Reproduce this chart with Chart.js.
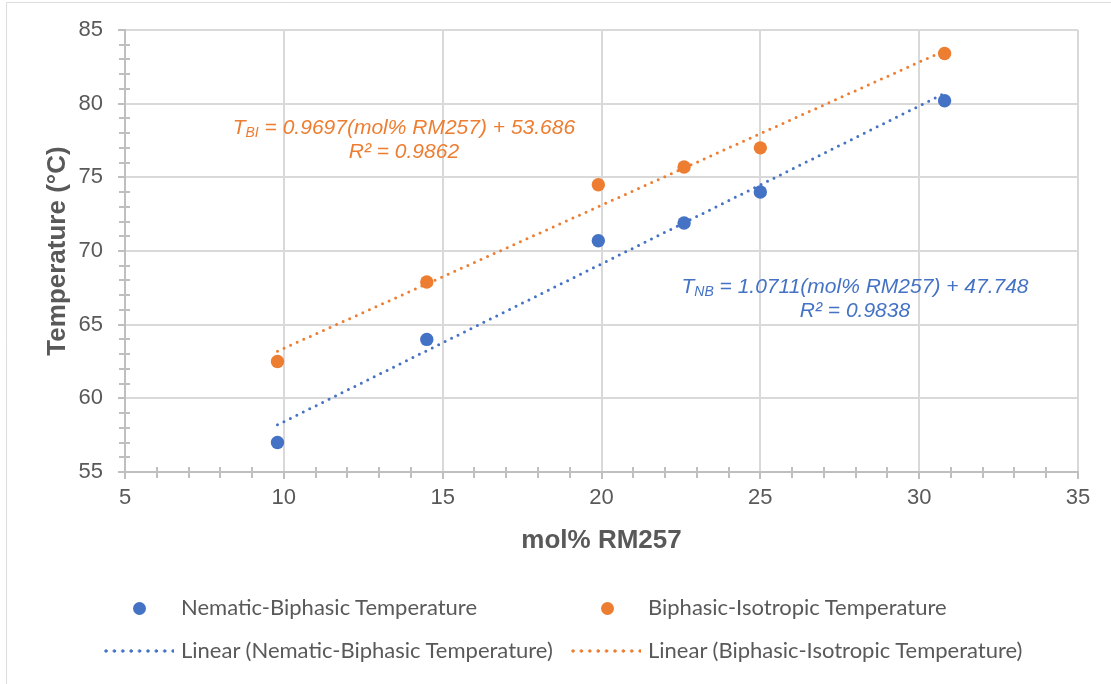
<!DOCTYPE html>
<html>
<head>
<meta charset="utf-8">
<script src="https://cdn.jsdelivr.net/npm/chart.js@4.4.1/dist/chart.umd.min.js"></script>
<style>
html,body{margin:0;padding:0;background:#ffffff;}
#wrap{position:relative;width:1111px;height:684px;overflow:hidden;background:#fff;}
#chart{position:absolute;left:0;top:0;}
.legtxt{position:absolute;font-family:Lato,"Open Sans",sans-serif;font-size:22px;color:#595959;line-height:26px;white-space:nowrap;}
.legdot{position:absolute;width:13px;height:13px;border-radius:50%;}
.legline{position:absolute;height:4px;background-repeat:repeat-x;background-size:8.4px 4px;}
</style>
</head>
<body>
<div id="wrap">
<canvas id="chart" width="1111" height="684"></canvas>
<div id="legend"></div>
</div>
<script>
// ---- data ----
const xValues = [9.8, 14.5, 19.9, 22.6, 25.0, 30.8];
const nematicBiphasic = [57.0, 64.0, 70.7, 71.9, 74.0, 80.2];
const biphasicIsotropic = [62.5, 67.9, 74.5, 75.7, 77.0, 83.4];
const trendX = [9.8, 30.8];
const trendNB = [58.2, 80.7];
const trendBI = [63.2, 83.6];
const xTickValues = [5, 10, 15, 20, 25, 30, 35];
const yTickValues = [55, 60, 65, 70, 75, 80, 85];
const seriesNames = ['Nematic-Biphasic Temperature', 'Biphasic-Isotropic Temperature',
  'Linear (Nematic-Biphasic Temperature)', 'Linear (Biphasic-Isotropic Temperature)'];
const eqNB = { sym: 'T', sub: 'NB', rest: ' = 1.0711(mol% RM257) + 47.748', r2: 'R² = 0.9838' };
const eqBI = { sym: 'T', sub: 'BI', rest: ' = 0.9697(mol% RM257) + 53.686', r2: 'R² = 0.9862' };
const xTitle = 'mol% RM257';
const yTitle = 'Temperature (°C)';

const BLUE = '#4472C4', ORANGE = '#ED7D31', TXT = '#595959', GRID = '#d9d9d9', AXIS = '#bfbfbf';
const FONT = '"Liberation Sans", Arial, sans-serif';

const toPts = (xs, ys) => xs.map((x, i) => ({ x: x, y: ys[i] }));

// ---- plugin: frame, minor ticks, trendline equations ----
const extras = {
  id: 'extras',
  beforeDraw(chart) {
    const ctx = chart.ctx;
    ctx.save();
    ctx.strokeStyle = '#dcdcdc';
    ctx.lineWidth = 1;
    ctx.beginPath();
    ctx.moveTo(6.5, 684);
    ctx.lineTo(6.5, 2.5);
    ctx.lineTo(1111, 2.5);
    ctx.stroke();
    ctx.restore();
  },
  beforeDatasetsDraw(chart) {
    const { ctx, scales: { x, y } } = chart;
    ctx.save();
    ctx.strokeStyle = AXIS;
    ctx.lineWidth = 2;
    for (let v = x.min + 1; v < x.max; v++) {
      if (v % 5 === 0) continue;
      const px = Math.round(x.getPixelForValue(v));
      ctx.beginPath();
      ctx.moveTo(px, y.bottom - 5);
      ctx.lineTo(px, y.bottom + 6);
      ctx.stroke();
    }
    for (let v = y.min + 1; v < y.max; v++) {
      if (v % 5 === 0) continue;
      const py = Math.round(y.getPixelForValue(v));
      ctx.beginPath();
      ctx.moveTo(x.left - 6, py);
      ctx.lineTo(x.left + 5, py);
      ctx.stroke();
    }
    ctx.restore();
  },
  afterDatasetsDraw(chart) {
    const { ctx, scales: { x, y } } = chart;
    const drawEq = (eq, cx, cy, color) => {
      const px = x.getPixelForValue(cx), py = y.getPixelForValue(cy);
      ctx.save();
      ctx.fillStyle = color;
      ctx.textBaseline = 'middle';
      const big = 'italic 21px ' + FONT, small = 'italic 14px ' + FONT;
      ctx.font = big; const w1 = ctx.measureText(eq.sym).width;
      ctx.font = small; const w2 = ctx.measureText(eq.sub).width;
      ctx.font = big; const w3 = ctx.measureText(eq.rest).width;
      let sx = px - (w1 + w2 + w3) / 2;
      ctx.textAlign = 'left';
      ctx.font = big; ctx.fillText(eq.sym, sx, py);
      ctx.font = small; ctx.fillText(eq.sub, sx + w1, py + 5);
      ctx.font = big; ctx.fillText(eq.rest, sx + w1 + w2, py);
      ctx.textAlign = 'center';
      ctx.fillText(eq.r2, px, py + 24);
      ctx.restore();
    };
    drawEq(eqBI, 13.78, 78.35, ORANGE);
    drawEq(eqNB, 27.98, 67.55, BLUE);
  }
};

const chart = new Chart(document.getElementById('chart'), {
  type: 'scatter',
  data: {
    datasets: [
      { label: seriesNames[2], type: 'line', data: toPts(trendX, trendNB), borderColor: BLUE,
        borderWidth: 3, borderDash: [0, 7.2], borderCapStyle: 'round', pointRadius: 0, fill: false, order: 2 },
      { label: seriesNames[3], type: 'line', data: toPts(trendX, trendBI), borderColor: ORANGE,
        borderWidth: 3, borderDash: [0, 7.2], borderCapStyle: 'round', pointRadius: 0, fill: false, order: 2 },
      { label: seriesNames[0], data: toPts(xValues, nematicBiphasic), backgroundColor: BLUE,
        borderWidth: 0, pointRadius: 6.7, order: 1 },
      { label: seriesNames[1], data: toPts(xValues, biphasicIsotropic), backgroundColor: ORANGE,
        borderWidth: 0, pointRadius: 6.7, order: 1 }
    ]
  },
  options: {
    responsive: false,
    devicePixelRatio: 1,
    animation: false,
    events: [],
    layout: { padding: { left: 0, top: 30, right: 33, bottom: 122 } },
    plugins: { legend: { display: false }, tooltip: { enabled: false } },
    scales: {
      x: {
        type: 'linear', min: xTickValues[0], max: xTickValues[xTickValues.length - 1],
        afterBuildTicks: (s) => { s.ticks = xTickValues.map(v => ({ value: v })); },
        afterFit: (s) => { s.height = 90; },
        grid: { color: GRID, lineWidth: 2, tickColor: AXIS, tickLength: 7 },
        border: { color: AXIS, width: 2 },
        ticks: { color: TXT, font: { family: FONT, size: 22 }, padding: 6, maxRotation: 0 },
        title: { display: true, text: xTitle, color: TXT, font: { family: FONT, size: 26, weight: 'bold' },
          padding: { top: 0, bottom: 6 } }
      },
      y: {
        type: 'linear', min: yTickValues[0], max: yTickValues[yTickValues.length - 1],
        afterBuildTicks: (s) => { s.ticks = yTickValues.map(v => ({ value: v })); },
        afterFit: (s) => { s.width = 125; },
        grid: { color: GRID, lineWidth: 2, tickColor: AXIS, tickLength: 7 },
        border: { color: AXIS, width: 2 },
        ticks: { color: TXT, font: { family: FONT, size: 22 }, padding: 15 },
        title: { display: true, text: yTitle, color: TXT, font: { family: FONT, size: 26, weight: 'bold' },
          padding: { top: 42, bottom: 0 } }
      }
    }
  },
  plugins: [extras]
});

// ---- legend (HTML) ----
const leg = document.getElementById('legend');
const legendItems = [
  { kind: 'dot', color: BLUE, mx: 139, my: 608, tx: 181, name: seriesNames[0] },
  { kind: 'dot', color: ORANGE, mx: 607, my: 608, tx: 648, name: seriesNames[1] },
  { kind: 'line', color: BLUE, mx: 104, mw: 70, my: 651, tx: 181, name: seriesNames[2] },
  { kind: 'line', color: ORANGE, mx: 571, mw: 70, my: 651, tx: 648, name: seriesNames[3] }
];
legendItems.forEach(it => {
  const m = document.createElement('div');
  if (it.kind === 'dot') {
    m.className = 'legdot';
    m.style.left = (it.mx - 6.5) + 'px';
    m.style.top = (it.my - 6.5) + 'px';
    m.style.background = it.color;
  } else {
    m.className = 'legline';
    m.style.left = it.mx + 'px';
    m.style.width = it.mw + 'px';
    m.style.top = (it.my - 2) + 'px';
    m.style.backgroundImage = 'radial-gradient(circle at 2px 2px, ' + it.color + ' 1.4px, rgba(255,255,255,0) 1.9px)';
  }
  leg.appendChild(m);
  const t = document.createElement('div');
  t.className = 'legtxt';
  t.style.left = it.tx + 'px';
  t.style.top = (it.my - 14) + 'px';
  t.textContent = it.name;
  leg.appendChild(t);
});
</script>
</body>
</html>
